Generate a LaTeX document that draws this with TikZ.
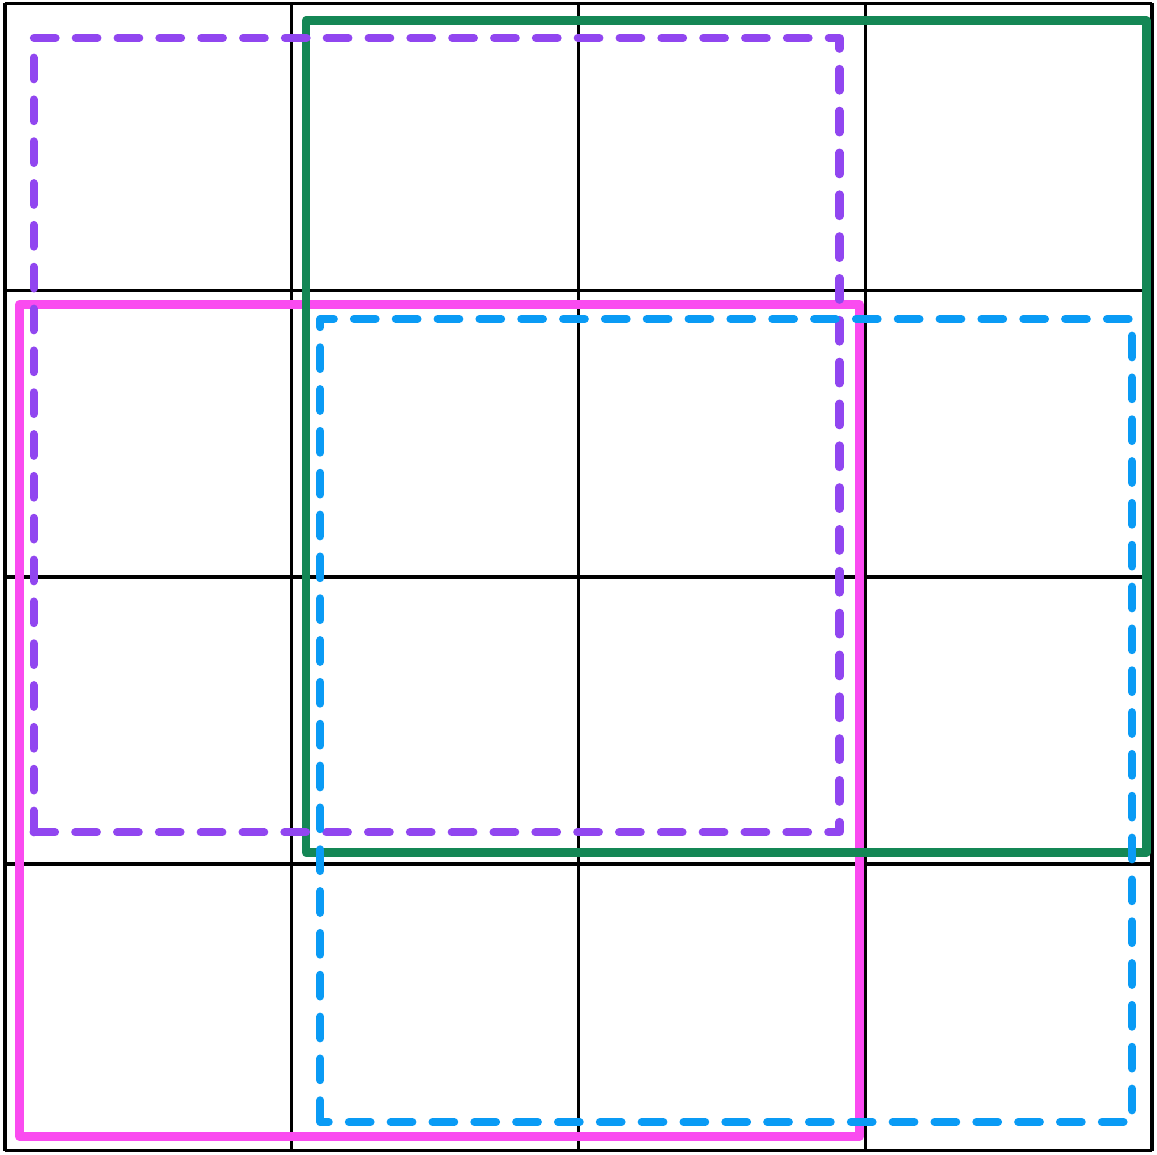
\documentclass[tikz,border=0pt]{standalone}
\usepackage{tikz}
\usetikzlibrary{calc}
\definecolor{violet}{HTML}{9146F0}
\definecolor{green}{HTML}{148755}
\definecolor{pink}{HTML}{FA4BF0}
\definecolor{sky}{HTML}{0A9BF5}

\begin{document}
\begin{tikzpicture}[
    x=2cm, y=2cm,
    gridline/.style={draw=black, line width=0.65pt, step=2cm},
    solidbox/.style={line width=1.7pt, line join=round},
    dashbox/.style={line width=1.6pt, line cap=round, line join=round, dash pattern=on 4.3pt off 4pt},
  ]
    \useasboundingbox (-0.017,-0.012) rectangle (4.017,4.012);
    \draw[gridline] (0,0) grid (4,4);
    \draw[solidbox, pink] (0.05,0.05) rectangle (2.98,2.95);
    \draw[solidbox, green] (1.05,1.04) rectangle (3.98,3.94);
    \draw[dashbox, violet] (0.10,1.11) rectangle (2.91,3.88);
    \draw[dashbox, sky] (1.10,0.10) rectangle (3.93,2.90);
  \end{tikzpicture}
\end{document}
